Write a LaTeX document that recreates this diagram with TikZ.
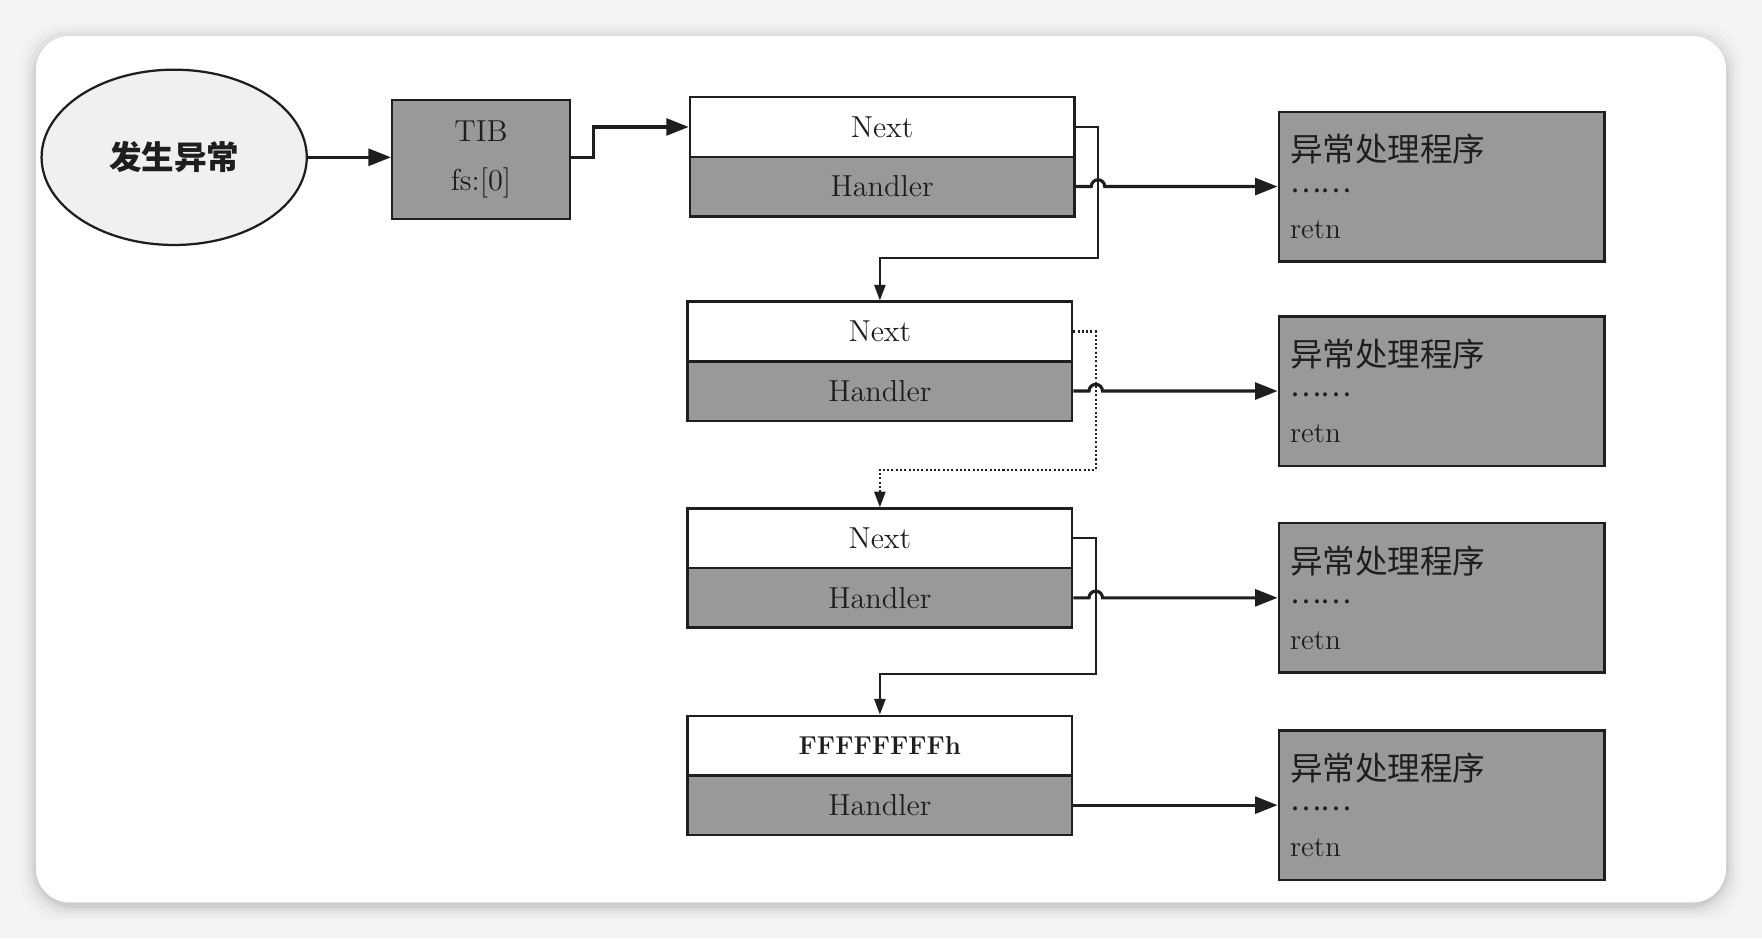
\documentclass[tikz,border=0pt]{standalone}
\usepackage{fontspec}
\newfontfamily\cjk{Noto Sans CJK SC}
\usetikzlibrary{shapes.geometric,arrows.meta,calc}
\definecolor{boxgrey}{HTML}{999999}
\definecolor{ellfill}{HTML}{F0F0F0}
\definecolor{pagebg}{HTML}{F4F4F4}
\definecolor{inkc}{HTML}{1E1E1E}
\begin{document}
\begin{tikzpicture}[x=0.5pt,y=-0.5pt,
  line join=miter,
  fieldw/.style={draw=inkc,line width=1.1pt,minimum width=171pt,minimum height=26.5pt,inner sep=0pt,text=inkc,font=\fontsize{13.5}{15}\selectfont},
  nextf/.style={fieldw,fill=white},
  handf/.style={fieldw,fill=boxgrey},
  procbox/.style={draw=inkc,line width=1.1pt,fill=boxgrey,minimum width=145pt,minimum height=66.5pt,inner xsep=5pt,text width=135pt,align=left,text=inkc,font=\fontsize{13}{17}\selectfont},
  arr/.style={draw=inkc,line width=1.4pt,-{Triangle[length=10pt,width=7.5pt]}},
  link/.style={draw=inkc,line width=0.9pt,-{Triangle[length=7pt,width=5pt]}},
]
% background and card
\fill[pagebg] (0,0) rectangle (1568,835);
\foreach \s/\o in {14/0.015,10/0.02,7/0.03,4/0.04,2/0.05}
  \fill[black,opacity=\o,rounded corners=18pt] (32-\s,32-\s+3) rectangle (1536+\s,803+\s+3);
\fill[white,rounded corners=15pt] (32,32) rectangle (1536,803);
\useasboundingbox (0,0) rectangle (1568,835);

% start ellipse and TIB
\node[ellipse,draw=inkc,line width=1pt,fill=ellfill,minimum width=118pt,minimum height=78pt,inner sep=0pt,text=inkc,font=\cjk\bfseries\fontsize{14.5}{16}\selectfont] (exc) at (155,140) {发生异常};
\node[draw=inkc,line width=1.1pt,fill=boxgrey,minimum width=79pt,minimum height=53pt,inner sep=0pt,align=center,text=inkc,font=\fontsize{13.5}{21.5}\selectfont] (tib) at (428,142) {TIB\\fs:[0]};

% records
\node[nextf] (n1) at (785,113) {Next};
\node[handf] (h1) at (785,166) {Handler};
\node[nextf] (n2) at (783,295) {Next};
\node[handf] (h2) at (783,348) {Handler};
\node[nextf] (n3) at (783,479) {Next};
\node[handf] (h3) at (783,532) {Handler};
\node[nextf,font=\bfseries\fontsize{11.5}{13}\selectfont] (n4) at (783,663.5) {FFFFFFFFh};
\node[handf] (h4) at (783,716.5) {Handler};

% handler procedures
\node[procbox] (p1) at (1283,166) {{\cjk\fontsize{14.5}{17}\selectfont 异常处理程序}\\[0pt]\raisebox{3.5pt}{\cjk ……}\\[0pt]retn};
\node[procbox] (p2) at (1283,348) {{\cjk\fontsize{14.5}{17}\selectfont 异常处理程序}\\[0pt]\raisebox{3.5pt}{\cjk ……}\\[0pt]retn};
\node[procbox] (p3) at (1283,532) {{\cjk\fontsize{14.5}{17}\selectfont 异常处理程序}\\[0pt]\raisebox{3.5pt}{\cjk ……}\\[0pt]retn};
\node[procbox] (p4) at (1283,716.5) {{\cjk\fontsize{14.5}{17}\selectfont 异常处理程序}\\[0pt]\raisebox{3.5pt}{\cjk ……}\\[0pt]retn};

% connectors
\draw[arr] (exc) -- (tib.west |- exc.east);
\draw[arr] (tib.east |- exc.east) -- ++(10pt,0) |- (n1.west);

\draw[link] (n1.east) -- ++(10pt,0) -- ++(0,-58.5pt) -| (n2.north);
\draw[link,densely dotted] (n2.east) -- ++(10pt,0) -- ++(0,-61.5pt) -| (n3.north);
\draw[link] (n3.east) -- ++(10pt,0) -- ++(0,-60.5pt) -| (n4.north);

\draw[arr] (h1.east) -- ++(7pt,0) arc[start angle=180,end angle=0,radius=3pt] -- (p1.west);
\draw[arr] (h2.east) -- ++(7pt,0) arc[start angle=180,end angle=0,radius=3pt] -- (p2.west);
\draw[arr] (h3.east) -- ++(7pt,0) arc[start angle=180,end angle=0,radius=3pt] -- (p3.west);
\draw[arr] (h4.east) -- (p4.west);
\end{tikzpicture}
\end{document}
